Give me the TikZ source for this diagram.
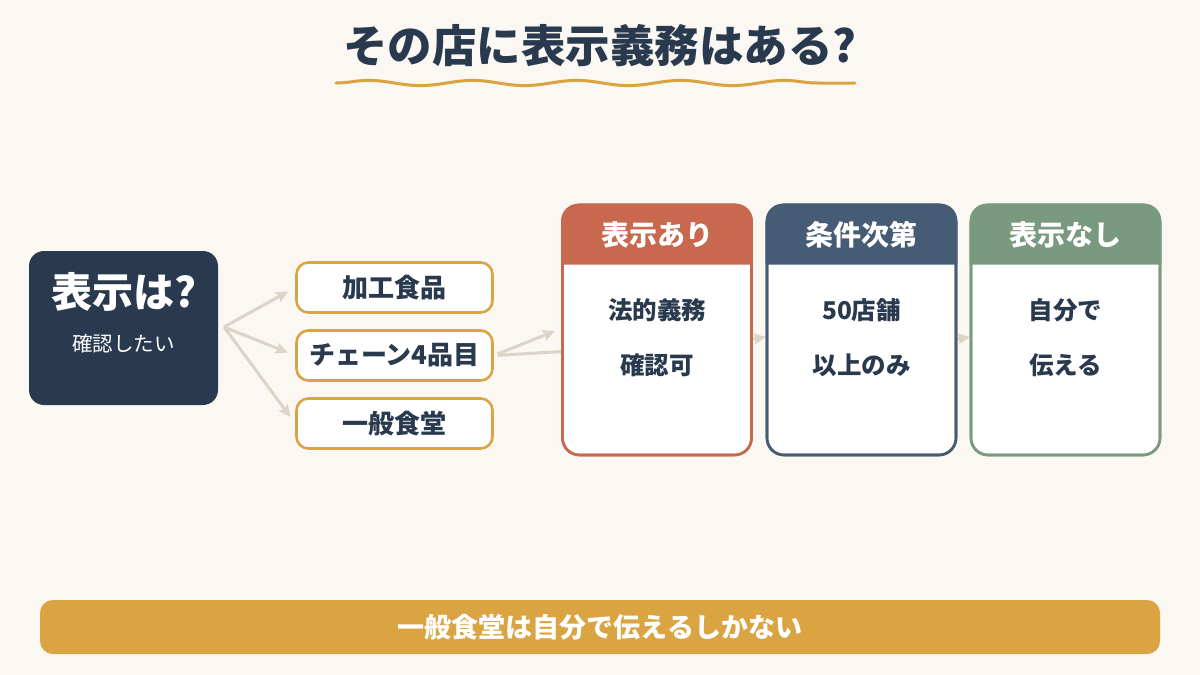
\documentclass[tikz,border=0pt]{standalone}
\usepackage{fontspec}
\setmainfont{Noto Sans CJK JP}
\usetikzlibrary{arrows.meta,decorations.pathmorphing,calc}
\definecolor{bgc}{HTML}{FBF7F2}
\definecolor{navy}{HTML}{2A3A4E}
\definecolor{gold}{HTML}{D9A441}
\definecolor{terra}{HTML}{C8694F}
\definecolor{slate}{HTML}{465B74}
\definecolor{sage}{HTML}{7A9A80}
\definecolor{flowc}{HTML}{DDD4C9}
\tikzset{
  optbox/.style={draw=gold,line width=2.6pt,fill=white,rounded corners=12pt,minimum width=196pt,minimum height=50pt,inner sep=0pt,font=\fontsize{26}{30}\selectfont\bfseries,text=navy},
  cardbox/.style={draw=#1,line width=2.6pt,rounded corners=17pt,minimum width=189pt,minimum height=250pt,inner sep=0pt},
  hdrtext/.style={text=white,font=\fontsize{28}{32}\selectfont\bfseries},
  bodytext/.style={text=navy,font=\fontsize{24.5}{28}\selectfont\bfseries},
  flow/.style={draw=flowc,line width=3pt,-{Stealth[length=12pt,width=11pt,inset=2pt]}},
  flowline/.style={draw=flowc,line width=3pt},
}
\begin{document}
\begin{tikzpicture}[x=1pt,y=-1pt]
\fill[bgc] (0,0) rectangle (1200,675);
\useasboundingbox (0,0) rectangle (1200,675);
% title
\node[text=navy,font=\fontsize{44.5}{50}\selectfont\bfseries] (title) at (600,46) {その店に表示義務はある?};
\coordinate (ulA) at (336,83);
\coordinate (ulB) at (855,83);
\draw[gold,line width=3pt,line cap=round,decorate,decoration={snake,segment length=104pt,amplitude=2.6pt}] (ulA) -- (ulB);
% connectors behind cards
\node[optbox] (o2) at (394.5,355.5) {チェーン4品目};
\coordinate (t2) at (555,331);
\coordinate (t2b) at (657,346);
\draw[flow,shorten <=4pt] (o2.east) -- (t2);
\draw[flowline,shorten <=4pt] (o2.east) -- (t2b);
\coordinate (g1a) at (740,341);
\coordinate (g1b) at (766,337);
\coordinate (g2a) at (944,341);
\coordinate (g2b) at (970,337);
\draw[flow] (g1a) -- (g1b);
\draw[flow] (g2a) -- (g2b);
% left box
\node[fill=navy,rounded corners=15pt,minimum width=189pt,minimum height=154pt,inner sep=0pt] (start) at (123.5,328) {};
\node[text=white,font=\fontsize{41}{46}\selectfont\bfseries] (startT) at (123.5,292) {表示は?};
\node[text=white,font=\fontsize{20.5}{24}\selectfont] (startS) at (123.5,344) {確認したい};
% options
\node[optbox] (o1) at (394.5,287.5) {加工食品};
\node[optbox] (o3) at (394.5,423.5) {一般食堂};
\coordinate (fs) at (224,327);
\draw[flow,shorten >=8pt] (fs) -- (o1.west);
\draw[flow,shorten >=8pt] (fs) -- (o2.west);
\draw[flow,shorten >=8pt] (fs) -- (o3.west);
% cards
\foreach \n/\cx/\col/\hd/\la/\lb in {c1/657/terra/表示あり/法的義務/確認可, c2/861.5/slate/条件次第/50店舗/以上のみ, c3/1065.5/sage/表示なし/自分で/伝える}{
  \node[cardbox=\col,fill=white] (\n) at (\cx,330) {};
  \fill[\col] ($(\n.north west)+(0,61)$) {[rounded corners=17pt] -- (\n.north west) -- (\n.north east)} -- ($(\n.north east)+(0,61)$) -- cycle;
  \node[cardbox=\col] at (\cx,330) {};
  \node[hdrtext] (\n h) at (\cx,235) {\hd};
  \node[bodytext] (\n a) at (\cx,310) {\la};
  \node[bodytext] (\n b) at (\cx,365) {\lb};
}
% bottom bar
\node[fill=gold,rounded corners=13pt,minimum width=1120pt,minimum height=54pt,inner sep=0pt,text=white,font=\fontsize{27}{30}\selectfont\bfseries] (bar) at (600,627) {一般食堂は自分で伝えるしかない};
\end{tikzpicture}
\end{document}
